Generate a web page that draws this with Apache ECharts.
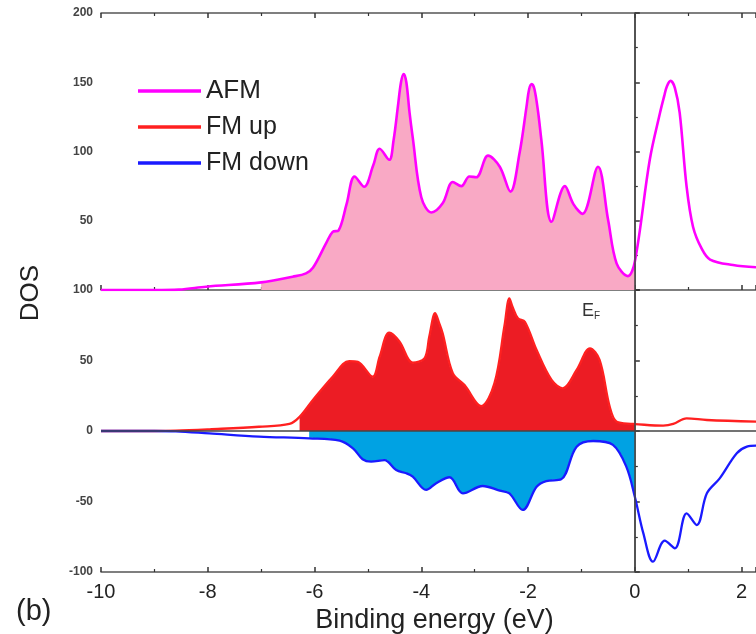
<!DOCTYPE html>
<html>
<head>
<meta charset="utf-8">
<script src="https://cdn.jsdelivr.net/npm/echarts@6/dist/echarts.min.js"></script>
<style>html,body{margin:0;padding:0;background:#fff}#c{width:756px;height:634px}</style>
</head>
<body>
<div id="c"></div>
<script>
// Energies (eV) and DOS values
const afmE = [-10,-9,-8.54,-8.03,-7,-6.41,-6.16,-6.03,-5.78,-5.66,-5.55,-5.4,-5.25,-5.07,-4.9,-4.78,-4.6,-4.52,-4.44,-4.38,-4.33,-4.28,-4.22,-4.16,-4.0,-3.81,-3.6,-3.41,-3.25,-3.1,-2.97,-2.75,-2.53,-2.33,-2.16,-2.03,-1.98,-1.93,-1.88,-1.81,-1.75,-1.56,-1.31,-1.15,-0.98,-0.69,-0.5,-0.34,-0.13,0,0.28,0.47,0.55,0.6,0.67,0.75,0.84,0.97,1.09,1.25,1.41,1.84,2.27];
const afmV = [0,0,0.3,2.4,5.5,9.6,12,16,34,42,43,62,82,74.6,90,102,94,108,132,150,156,150,128,110,67,56,62.6,78,75,82,81.4,97,89,71,98.7,132,145,148.7,145,128,108,49.3,75,62,55,89,50.5,19,10,20.4,94,127.6,140,147,151,146,128,74.6,45.7,30,22,18,16.4];

const upE = [-10,-9,-8.6,-7.97,-7.04,-6.47,-6.28,-6.03,-5.66,-5.35,-5.19,-4.91,-4.78,-4.6,-4.41,-4.16,-3.94,-3.85,-3.74,-3.66,-3.6,-3.41,-3.19,-2.88,-2.63,-2.44,-2.35,-2.29,-2.19,-2.06,-1.84,-1.56,-1.35,-1.09,-0.84,-0.66,-0.47,-0.34,-0.03,0,0.53,0.72,0.97,1.35,2.27];
const upV = [0,0,0.2,1.2,3,5,10,22,38.5,49.6,49,38.5,52.7,69.7,63.5,48.5,51.5,67,83.5,76,69.3,41,32.6,17.7,33.8,75,94,88,80,77.5,57.4,36.2,30.3,43.3,58.6,50.4,17.2,6.6,5,4.9,3.8,5,9,7.8,6.6];

const dnE = [-10,-9,-8.6,-7.97,-7.04,-6.1,-5.53,-5.28,-5.1,-4.94,-4.69,-4.47,-4.28,-4.16,-3.91,-3.72,-3.47,-3.22,-2.85,-2.53,-2.35,-2.1,-1.84,-1.66,-1.38,-1.09,-0.78,-0.41,-0.16,0,0.16,0.34,0.56,0.75,0.97,1.16,1.35,1.59,1.91,2.1,2.27];
const dnV = [0,0,-0.2,-1.7,-4,-5.2,-6.9,-12.3,-20,-21.7,-20.6,-27.7,-30,-32.4,-41.8,-37,-32.8,-44.2,-39,-42.3,-44.2,-56,-39.5,-35.5,-34.3,-11.1,-7.1,-9.9,-25.3,-46.6,-72.6,-92.7,-77.8,-83.2,-58.4,-66.7,-44.2,-33.6,-15.8,-11.1,-10.4];

const topTicks = [0,50,100,150,200];
const botTicks = [-100,-50,0,50,100];
const xTicks = [-10,-8,-6,-4,-2,0,2];
const fillStart = {afm:-7, up:-6.4, dn:-6.1};

function pairs(E, V, lo, hi) {
  const out = [];
  for (let i = 0; i < E.length; i++) if (E[i] >= lo && E[i] <= hi) out.push([E[i], V[i]]);
  return out;
}

const chart = echarts.init(document.getElementById('c'), null, {renderer: 'canvas'});
const axisCol = '#555';
const font = 'Liberation Sans, Arial, sans-serif';
const SM = 0.35;

function xAx(gi, pos, showLabel) {
  return {
    type: 'value', gridIndex: gi, position: pos, min: -10, max: 2.27, interval: 2,
    axisLine: {show: true, onZero: false, lineStyle: {color: axisCol, width: 1.5}},
    axisTick: {show: true, inside: true, length: 5, lineStyle: {color: '#333', width: 1.5}},
    minorTick: {show: true, splitNumber: 2, length: 3, lineStyle: {color: '#333', width: 1.2}},
    splitLine: {show: false},
    axisLabel: {show: showLabel, fontSize: 20, color: '#222', fontFamily: font, margin: 10,
      showMaxLabel: false, formatter: v => xTicks.includes(v) ? String(v) : ''},
    name: showLabel ? 'Binding energy (eV)' : '', nameLocation: 'middle', nameGap: 35,
    nameTextStyle: {fontSize: 27, color: '#222', fontFamily: font, padding: [0, 0, 0, 12]}
  };
}
function yAx(gi, min, max, ticks, hideMin) {
  return {
    type: 'value', gridIndex: gi, min: min, max: max, interval: 50,
    axisLine: {show: true, lineStyle: {color: axisCol, width: 1.5}},
    axisTick: {show: true, inside: true, length: 5, lineStyle: {color: '#333', width: 1.5}},
    minorTick: {show: true, splitNumber: 2, length: 3, lineStyle: {color: '#333', width: 1.2}},
    splitLine: {show: false},
    axisLabel: {fontSize: 12, color: '#444', fontFamily: font, fontWeight: 'bold', margin: 8,
      showMinLabel: !hideMin, formatter: v => ticks.includes(v) ? String(v) : ''}
  };
}

const option = {
  backgroundColor: '#fff',
  animation: false,
  grid: [
    {left: 101, top: 13, width: 655, height: 277, outerBoundsMode: 'none', containLabel: false},
    {left: 101, top: 290, width: 655, height: 282, outerBoundsMode: 'none', containLabel: false}
  ],
  xAxis: [xAx(0, 'bottom', false), xAx(1, 'bottom', true), xAx(0, 'top', false)],
  yAxis: [yAx(0, 0, 200, topTicks, true), yAx(1, -100, 100, botTicks, false)],
  legend: {
    orient: 'vertical', left: 133, top: 72, itemWidth: 63, itemHeight: 3.5, itemGap: 8,
    textStyle: {fontSize: 25, color: '#222', fontFamily: font, lineHeight: 28},
    data: [
      {name: 'AFM', icon: 'rect', itemStyle: {color: '#ff00ff'}, textStyle: {fontSize: 26}},
      {name: 'FM up', icon: 'rect', itemStyle: {color: '#ff2020'}},
      {name: 'FM down', icon: 'rect', itemStyle: {color: '#1a1aff'}}
    ]
  },
  graphic: [
    {type: 'text', left: 16, top: 597, style: {text: '(b)', fontSize: 29, fill: '#222', fontFamily: font}},
    {type: 'text', left: 18, top: 265, rotation: Math.PI / 2, style: {text: 'DOS', fontSize: 26, fill: '#222', fontFamily: font}},
    {type: 'text', left: 582, top: 302, style: {text: '{e|E}{f|F}', rich: {e: {fontSize: 18, fill: '#333', fontFamily: font}, f: {fontSize: 10, fill: '#333', fontFamily: font, padding: [10, 0, 0, 0]}}}}
  ],
  series: [
    {name: 'afmFill', type: 'line', xAxisIndex: 0, yAxisIndex: 0, smooth: SM, symbol: 'none',
      data: pairs(afmE, afmV, fillStart.afm, 0), lineStyle: {width: 1, color: '#fff', type: 'dashed'},
      areaStyle: {color: '#f9a9c5', opacity: 1}, z: 1},
    {name: 'AFM', type: 'line', xAxisIndex: 0, yAxisIndex: 0, smooth: SM, symbol: 'none',
      data: pairs(afmE, afmV, -10, 3), lineStyle: {width: 2.6, color: '#ff00ff'}, itemStyle: {color: '#ff00ff'}, z: 3,
      markLine: {silent: true, symbol: 'none', label: {show: false}, lineStyle: {color: '#444', width: 1.5, type: 'solid'}, data: [{xAxis: 0}]}},
    {name: 'upFill', type: 'line', xAxisIndex: 1, yAxisIndex: 1, smooth: SM, symbol: 'none',
      data: pairs(upE, upV, fillStart.up, 0), lineStyle: {width: 1, color: '#fff', type: 'dashed'},
      areaStyle: {color: '#ec1c24', opacity: 1}, z: 1},
    {name: 'dnFill', type: 'line', xAxisIndex: 1, yAxisIndex: 1, smooth: SM, symbol: 'none',
      data: pairs(dnE, dnV, fillStart.dn, 0), lineStyle: {width: 1, color: '#fff', type: 'dashed'},
      areaStyle: {color: '#00a2e3', opacity: 1}, z: 1},
    {name: 'FM up', type: 'line', xAxisIndex: 1, yAxisIndex: 1, smooth: SM, symbol: 'none',
      data: pairs(upE, upV, -10, 3), lineStyle: {width: 2.3, color: '#ff2020'}, itemStyle: {color: '#ff2020'}, z: 3,
      markLine: {silent: true, symbol: 'none', label: {show: false}, lineStyle: {color: '#444', width: 1.5, type: 'solid'}, data: [{xAxis: 0}, {yAxis: 0}]}},
    {name: 'FM down', type: 'line', xAxisIndex: 1, yAxisIndex: 1, smooth: SM, symbol: 'none',
      data: pairs(dnE, dnV, -10, 3), lineStyle: {width: 2.3, color: '#1a1aff'}, itemStyle: {color: '#1a1aff'}, z: 3}
  ]
};
chart.setOption(option);
</script>
</body>
</html>
